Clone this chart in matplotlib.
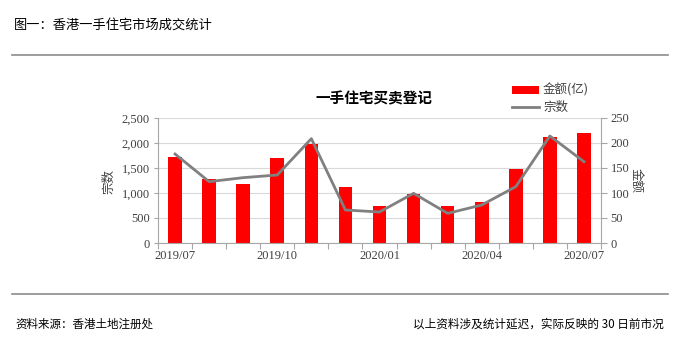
import matplotlib
matplotlib.use("Agg")
import matplotlib.pyplot as plt
from matplotlib.patches import Patch
from matplotlib.lines import Line2D
import numpy as np

plt.rcParams['font.family'] = ['Noto Sans CJK SC', 'DejaVu Sans']

months = ['2019/07', '2019/08', '2019/09', '2019/10', '2019/11', '2019/12',
          '2020/01', '2020/02', '2020/03', '2020/04', '2020/05', '2020/06', '2020/07']
amount = [171, 127, 117, 169, 197, 111, 74, 98, 74, 81, 148, 211, 220]          # 金额(亿)
count = [1780, 1227, 1307, 1360, 2087, 660, 620, 993, 593, 760, 1127, 2140, 1627]  # 宗数
tick_labels = ['2019/07', '2019/10', '2020/01', '2020/04', '2020/07']

W, H = 678, 360
fig = plt.figure(figsize=(W / 100, H / 100), dpi=100)

def fx(px):
    return px / W

def fy(py):
    return 1 - py / H

ax = fig.add_axes([fx(158), fy(243), fx(601) - fx(158), fy(118) - fy(243)])
ax2 = ax.twinx()

x = np.arange(len(months))
num_font = dict(family='Liberation Serif', size=9, color='#404040')

# bars on right axis (金额)
ax2.bar(x, amount, width=0.4, color='#ff0000', zorder=2)
ax2.set_ylim(0, 250)
ax2.set_yticks(np.arange(0, 251, 50))
ax2.set_yticklabels([f'{v:,}' for v in range(0, 251, 50)], **num_font)
ax2.yaxis.grid(True, color='#d9d9d9', linewidth=0.8, zorder=0)
ax2.set_axisbelow(True)

# line on left axis (宗数)
ax.plot(x, count, color='#808080', linewidth=2.0, zorder=3)
ax.set_ylim(0, 2500)
ax.set_yticks(np.arange(0, 2501, 500))
ax.set_yticklabels([f'{v:,}' for v in range(0, 2501, 500)], **num_font)
ax.set_zorder(ax2.get_zorder() + 1)
ax.patch.set_visible(False)

ax.set_xlim(-0.5, len(months) - 0.5)
ax.set_xticks([months.index(t) for t in tick_labels])
ax.set_xticklabels(tick_labels, **num_font)
ax.set_xticks(np.arange(-0.5, len(months), 1.0), minor=True)
ax.tick_params(axis='x', which='major', length=0, pad=5)
ax.tick_params(axis='x', which='minor', length=4, color='#a6a6a6', width=0.8)
ax.tick_params(axis='y', length=3, color='#a6a6a6', width=0.8, pad=3)
ax2.tick_params(axis='y', length=4, color='#a6a6a6', width=0.8, pad=3)

for a in (ax, ax2):
    a.spines['top'].set_visible(False)
    for s in ('left', 'right', 'bottom'):
        a.spines[s].set_color('#a6a6a6')
        a.spines[s].set_linewidth(0.8)
ax.spines['right'].set_visible(False)
ax2.spines['left'].set_visible(False)
ax2.spines['bottom'].set_visible(False)

# axis labels
fig.text(fx(109), fy(181), '宗数', rotation=90, ha='center', va='center',
         fontsize=9, color='#404040')
fig.text(fx(636), fy(181), '金额', rotation=270, ha='center', va='center',
         fontsize=9, color='#404040')

# chart title
fig.text(fx(374), fy(98), '一手住宅买卖登记', ha='center', va='center',
         fontsize=10.5, fontweight='bold', color='#000000')

# legend
handles = [Patch(facecolor='#ff0000', edgecolor='none'),
           Line2D([0], [0], color='#808080', linewidth=2.0)]
fig.legend(handles, ['金额(亿)', '宗数'], loc='upper left',
           bbox_to_anchor=(fx(508), fy(80)), frameon=False, fontsize=9,
           handlelength=2.2, handleheight=0.6, labelspacing=0.35,
           handletextpad=0.3, borderaxespad=0, borderpad=0.3,
           labelcolor='#404040')

# header and footer
fig.text(fx(14), fy(25), '图一：香港一手住宅市场成交统计', ha='left', va='center',
         fontsize=9.5, color='#000000')
fig.add_artist(Line2D([fx(12), fx(668)], [fy(55), fy(55)], color='#8c8c8c', linewidth=1.2))
fig.add_artist(Line2D([fx(12), fx(668)], [fy(294), fy(294)], color='#8c8c8c', linewidth=1.2))
fig.text(fx(15), fy(324), '资料来源：香港土地注册处', ha='left', va='center',
         fontsize=8.3, color='#000000', style='italic')
fig.text(fx(664), fy(324), '以上资料涉及统计延迟，实际反映的 30 日前市况', ha='right', va='center',
         fontsize=8.4, color='#000000', style='italic')

fig.savefig('out.png', dpi=100)
